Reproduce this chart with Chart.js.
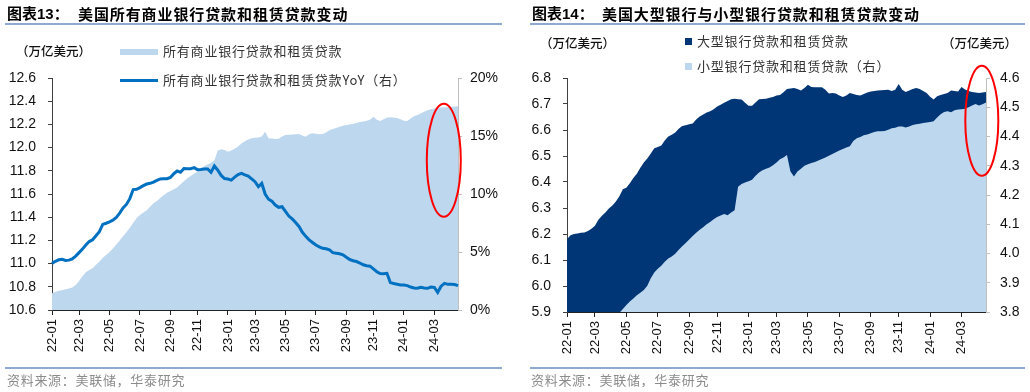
<!DOCTYPE html>
<html>
<head>
<meta charset="utf-8">
<script src="https://cdn.jsdelivr.net/npm/chart.js@4.4.0/dist/chart.umd.min.js"></script>
<style>
body{margin:0;background:#fff;width:1030px;height:392px;position:relative;overflow:hidden;font-family:"Noto Sans CJK SC",sans-serif;}
canvas{position:absolute;top:0;}
.abs{position:absolute;white-space:nowrap;}
.title{font-weight:bold;font-size:15px;color:#000;line-height:18px;top:5px;font-family:"Liberation Sans","Noto Sans CJK SC",sans-serif;}
.title2{font-weight:bold;font-size:15px;color:#000;line-height:18px;top:5px;letter-spacing:0.9px;}
.rule{position:absolute;height:0;border-top:2px solid #8eaad1;}
.unit{font-size:12.5px;color:#111;line-height:16px;font-weight:500;}
.leg{font-size:13px;color:#333;letter-spacing:0.8px;line-height:16px;}
.src{font-size:13px;color:#8c8c8c;letter-spacing:0.7px;line-height:16px;top:372px;}
.sw{position:absolute;}
</style>
</head>
<body>
<canvas id="c1" width="515" height="392" style="left:0"></canvas>
<canvas id="c2" width="515" height="392" style="left:515px"></canvas>

<div class="abs title" style="left:7px">图表13：</div>
<div class="abs title2" style="left:78px">美国所有商业银行贷款和租赁贷款变动</div>
<div class="rule" style="left:5px;width:497px;top:23px"></div>
<div class="abs unit" style="left:16px;top:43px">（万亿美元）</div>
<div class="sw" style="left:120px;top:49px;width:38px;height:6px;background:#bdd7ee"></div>
<div class="abs leg" style="left:163px;top:43px">所有商业银行贷款和租赁贷款</div>
<div class="sw" style="left:120px;top:79px;width:38px;height:3px;background:#0070c0"></div>
<div class="abs leg" style="left:163px;top:72px">所有商业银行贷款和租赁贷款YoY（右）</div>
<div class="rule" style="left:5px;width:497px;top:367px"></div>
<div class="abs src" style="left:7px">资料来源：美联储，华泰研究</div>

<div class="abs title" style="left:532px">图表14：</div>
<div class="abs title2" style="left:602px">美国大型银行与小型银行贷款和租赁贷款变动</div>
<div class="rule" style="left:530px;width:495px;top:23px"></div>
<div class="abs unit" style="left:540px;top:35px">（万亿美元）</div>
<div class="abs unit" style="left:942px;top:35px">（万亿美元）</div>
<div class="sw" style="left:685px;top:38px;width:7px;height:7px;background:#003676"></div>
<div class="abs leg" style="left:697px;top:33px">大型银行贷款和租赁贷款</div>
<div class="sw" style="left:685px;top:63px;width:7px;height:7px;background:#bdd7ee"></div>
<div class="abs leg" style="left:697px;top:58px">小型银行贷款和租赁贷款（右）</div>
<div class="rule" style="left:530px;width:495px;top:367px"></div>
<div class="abs src" style="left:531px">资料来源：美联储，华泰研究</div>

<script>
// weekly H.8 data, Wednesdays from 2022-01-05 to 2024-04-24
const weekLabels = [];
for (let i = 0; i < 121; i++) {
    const d = new Date(Date.UTC(2022, 0, 5 + 7 * i));
    weekLabels.push(d.toISOString().slice(0, 10));
}
const tickLabels = ['22-01', '22-03', '22-05', '22-07', '22-09', '22-11', '23-01', '23-03', '23-05', '23-07', '23-09', '23-11', '24-01', '24-03'];

// all commercial banks, loans and leases (trillion USD)
const totalLoans = [
    10.744, 10.755, 10.765, 10.770, 10.778, 10.785, 10.795, 10.815, 10.850, 10.890,
    10.925, 10.945, 10.960, 10.990, 11.015, 11.050, 11.075, 11.100, 11.130, 11.165,
    11.200, 11.235, 11.270, 11.310, 11.350, 11.390, 11.420, 11.440, 11.460, 11.490,
    11.520, 11.540, 11.565, 11.590, 11.610, 11.625, 11.640, 11.655, 11.685, 11.710,
    11.735, 11.755, 11.775, 11.795, 11.820, 11.840, 11.855, 11.870, 11.890, 11.975,
    11.985, 11.980, 11.965, 11.975, 11.990, 12.010, 12.035, 12.055, 12.070, 12.080,
    12.085, 12.088, 12.095, 12.137, 12.080, 12.078, 12.075, 12.076, 12.095, 12.108,
    12.110, 12.113, 12.116, 12.117, 12.105, 12.094, 12.115, 12.123, 12.120, 12.115,
    12.118, 12.130, 12.150, 12.160, 12.170, 12.180, 12.188, 12.195, 12.200, 12.206,
    12.213, 12.220, 12.226, 12.232, 12.240, 12.266, 12.240, 12.230, 12.245, 12.258,
    12.262, 12.260, 12.255, 12.245, 12.232, 12.230, 12.250, 12.270, 12.280, 12.295,
    12.310, 12.322, 12.330, 12.338, 12.342, 12.345, 12.347, 12.348, 12.350, 12.354,
    12.357
];
// year-on-year growth (%)
const totalYoY = [
    4.02, 4.20, 4.33, 4.37, 4.27, 4.30, 4.40, 4.65, 4.95, 5.25,
    5.60, 5.90, 6.05, 6.40, 6.75, 7.38, 7.48, 7.60, 7.74, 7.98,
    8.35, 8.80, 9.10, 9.60, 10.38, 10.40, 10.55, 10.72, 10.86, 10.92,
    11.02, 11.18, 11.30, 11.32, 11.32, 11.42, 11.75, 11.98, 11.87, 12.20,
    12.18, 12.18, 12.27, 12.10, 12.12, 12.16, 12.16, 11.87, 12.41, 12.05,
    11.60, 11.33, 11.29, 11.20, 11.45, 11.68, 11.78, 11.65, 11.55, 11.30,
    11.06, 10.63, 10.92, 10.00, 9.55, 9.38, 9.05, 8.85, 8.90, 8.50,
    8.10, 7.85, 7.55, 7.20, 6.70, 6.35, 6.05, 5.82, 5.60, 5.45,
    5.32, 5.28, 5.18, 4.94, 4.90, 4.85, 4.76, 4.55, 4.35, 4.25,
    4.18, 4.05, 3.90, 3.82, 3.78, 3.55, 3.30, 3.15, 3.12, 3.16,
    2.36, 2.28, 2.22, 2.16, 2.16, 2.10, 1.98, 1.90, 1.88, 1.95,
    1.90, 1.87, 1.98, 1.95, 1.52, 2.05, 2.30, 2.21, 2.21, 2.20,
    2.10
];
// large banks (left axis, trillion USD)
const largeBanks = [
    6.180, 6.195, 6.200, 6.202, 6.205, 6.206, 6.212, 6.220, 6.232, 6.255,
    6.270, 6.283, 6.298, 6.310, 6.325, 6.345, 6.372, 6.378, 6.395, 6.415,
    6.432, 6.455, 6.475, 6.490, 6.510, 6.530, 6.535, 6.540, 6.560, 6.575,
    6.582, 6.590, 6.605, 6.615, 6.618, 6.622, 6.625, 6.640, 6.652, 6.660,
    6.667, 6.672, 6.680, 6.690, 6.697, 6.705, 6.712, 6.718, 6.720, 6.718,
    6.717, 6.705, 6.693, 6.693, 6.706, 6.718, 6.719, 6.720, 6.724, 6.727,
    6.733, 6.735, 6.745, 6.758, 6.760, 6.762, 6.758, 6.752, 6.762, 6.774,
    6.765, 6.764, 6.764, 6.764, 6.755, 6.740, 6.742, 6.740, 6.733, 6.727,
    6.733, 6.742, 6.738, 6.735, 6.733, 6.738, 6.744, 6.748, 6.750, 6.752,
    6.753, 6.754, 6.755, 6.750, 6.755, 6.777, 6.755, 6.746, 6.752, 6.758,
    6.762, 6.758, 6.750, 6.742, 6.728, 6.717, 6.730, 6.735, 6.738, 6.742,
    6.752, 6.750, 6.748, 6.765, 6.756, 6.750, 6.746, 6.744, 6.742, 6.744,
    6.746
];
// small banks (right axis, trillion USD)
const smallBanks = [
    3.700, 3.705, 3.710, 3.715, 3.720, 3.725, 3.730, 3.735, 3.740, 3.748,
    3.756, 3.764, 3.772, 3.780, 3.788, 3.797, 3.810, 3.824, 3.836, 3.846,
    3.857, 3.866, 3.875, 3.890, 3.915, 3.935, 3.948, 3.958, 3.972, 3.983,
    3.990, 3.999, 4.013, 4.025, 4.036, 4.048, 4.060, 4.071, 4.081, 4.090,
    4.100, 4.108, 4.117, 4.125, 4.130, 4.135, 4.131, 4.140, 4.148, 4.228,
    4.238, 4.243, 4.247, 4.252, 4.266, 4.277, 4.285, 4.290, 4.294, 4.302,
    4.311, 4.322, 4.328, 4.337, 4.280, 4.263, 4.280, 4.290, 4.300, 4.305,
    4.309, 4.313, 4.318, 4.323, 4.328, 4.334, 4.340, 4.346, 4.352, 4.357,
    4.362, 4.367, 4.385, 4.394, 4.398, 4.404, 4.407, 4.411, 4.415, 4.418,
    4.418, 4.419, 4.423, 4.428, 4.430, 4.434, 4.434, 4.431, 4.434, 4.439,
    4.442, 4.444, 4.446, 4.448, 4.450, 4.452, 4.465, 4.476, 4.484, 4.486,
    4.483, 4.490, 4.492, 4.493, 4.495, 4.500, 4.506, 4.511, 4.506, 4.510,
    4.516
];

const tickFont = { family: 'Liberation Sans, Arial, sans-serif', size: 14 };
const xFont = { family: 'Liberation Sans, Arial, sans-serif', size: 13 };

// only first week of odd months gets a label and a tick mark
function tickText(i) {
    const w = weekLabels[i];
    if (!w) return '';
    const lab = w.slice(2, 7);
    const day = +w.slice(8, 10);
    return (day <= 7 && tickLabels.includes(lab)) ? lab : '';
}

// red circle marks drawn on top
const ringPlugin = {
    id: 'ring',
    afterDraw(chart, args, opts) {
        const ctx = chart.ctx;
        const cx = chart.scales.x.getPixelForValue(opts.at[0]);
        const cy = chart.scales.y1.getPixelForValue(opts.at[1]);
        ctx.save();
        ctx.strokeStyle = '#ff0000';
        ctx.lineWidth = 2;
        ctx.beginPath();
        ctx.ellipse(cx, cy, opts.rx, opts.ry, 0, 0, Math.PI * 2);
        ctx.stroke();
        ctx.restore();
    }
};

function xAxis(h) {
    return {
        type: 'category',
        offset: false,
        ticks: {
            autoSkip: false, maxRotation: 90, minRotation: 90, padding: 4,
            font: xFont, color: '#111',
            callback: (v, i) => tickText(i)
        },
        grid: {
            drawOnChartArea: false, tickLength: 5,
            color: c => tickText(c.index) ? '#222' : 'rgba(0,0,0,0)'
        },
        border: { color: '#222', width: 1 },
        afterFit: s => { s.height = h; }
    };
}

function yAxis(pos, min, max, step, pad, w, col, fmt) {
    return {
        position: pos, min: min, max: max,
        ticks: { stepSize: step, padding: pad, font: tickFont, color: '#111', callback: fmt },
        grid: { drawOnChartArea: false, tickLength: 4, color: col },
        border: { color: col, width: 1 },
        afterFit: s => { s.width = w; }
    };
}

new Chart(document.getElementById('c1'), {
    type: 'line',
    data: {
        labels: weekLabels,
        datasets: [{
            label: '所有商业银行贷款和租赁贷款YoY（右）',
            data: totalYoY,
            yAxisID: 'y1',
            borderColor: '#0070c0',
            borderWidth: 3,
            pointRadius: 0,
            fill: false,
            order: 0
        }, {
            label: '所有商业银行贷款和租赁贷款',
            data: totalLoans,
            yAxisID: 'y',
            backgroundColor: '#bdd7ee',
            borderWidth: 0,
            pointRadius: 0,
            fill: 'start',
            order: 1
        }]
    },
    options: {
        responsive: false,
        animation: false,
        devicePixelRatio: 1,
        layout: { padding: { top: 78, left: 0, right: 0, bottom: 0 } },
        plugins: {
            legend: { display: false },
            tooltip: { enabled: false },
            ring: { at: [115.8, 12.9], rx: 17, ry: 56.5 }
        },
        scales: {
            x: xAxis(82),
            y: yAxis('left', 10.6, 12.6, 0.2, 12, 52, '#404040', v => v.toFixed(1)),
            y1: yAxis('right', 0, 20, 5, 8, 57, '#bfbfbf', v => v + '%')
        }
    },
    plugins: [ringPlugin]
});

new Chart(document.getElementById('c2'), {
    type: 'line',
    data: {
        labels: weekLabels,
        datasets: [{
            label: '大型银行贷款和租赁贷款',
            data: largeBanks,
            yAxisID: 'y',
            backgroundColor: '#003676',
            borderWidth: 0,
            pointRadius: 0,
            fill: 'start',
            order: 1
        }, {
            label: '小型银行贷款和租赁贷款（右）',
            data: smallBanks,
            yAxisID: 'y1',
            backgroundColor: '#bdd7ee',
            borderWidth: 0,
            pointRadius: 0,
            fill: 'start',
            order: 0
        }]
    },
    options: {
        responsive: false,
        animation: false,
        devicePixelRatio: 1,
        layout: { padding: { top: 78, left: 0, right: 0, bottom: 0 } },
        plugins: {
            legend: { display: false },
            tooltip: { enabled: false },
            ring: { at: [118.8, 4.454], rx: 16.5, ry: 55 }
        },
        scales: {
            x: xAxis(80),
            y: yAxis('left', 5.9, 6.8, 0.1, 12, 52, '#404040', v => v.toFixed(1)),
            y1: yAxis('right', 3.8, 4.6, 0.1, 10, 44, '#bfbfbf', v => v.toFixed(1))
        }
    },
    plugins: [ringPlugin]
});
</script>
</body>
</html>
